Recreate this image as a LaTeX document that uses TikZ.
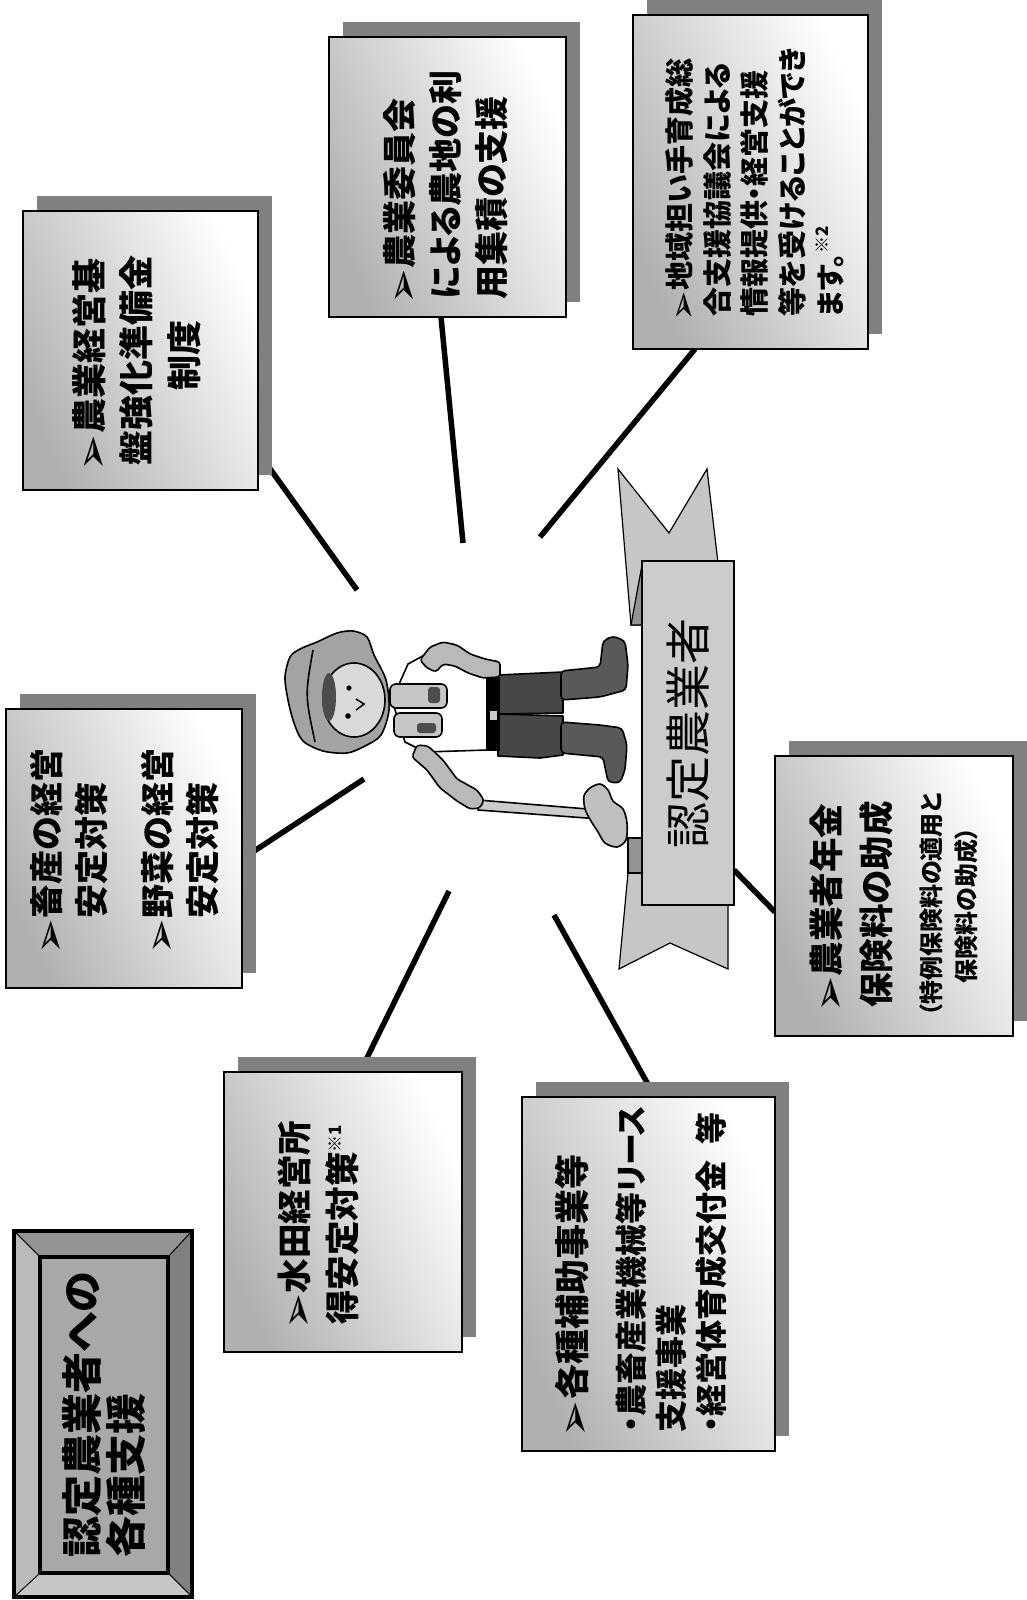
\documentclass[tikz,border=0pt]{standalone}
\usepackage{fontspec}
\usepackage{graphicx}
\usetikzlibrary{calc,shadows}
\newfontfamily\jp{Noto Sans CJK JP}[RawFeature=+palt]
\newfontfamily\sym{DejaVu Sans}
% bullet arrowhead and small reference marks
\newcommand\mk{\makebox[0.92em][l]{\hspace{-0.15em}\raisebox{-0.14em}{\scalebox{1.25}{\sym\mdseries ➢}}}}
\newcommand\refnote[1]{\raisebox{0.42em}{\fontsize{17}{17}\selectfont ※#1}}
\pgfdeclarelayer{back}
\pgfsetlayers{back,main}

\begin{document}
\begin{tikzpicture}[x=1pt,y=-1pt,
  infobox/.style={draw=black, line width=2.5pt, inner sep=0pt, outer sep=0pt,
    top color=gray!62, bottom color=white, shading angle=115,
    general shadow={fill=black!50, shadow xshift=14pt, shadow yshift=15pt}},
  conn/.style={line width=5.5pt},
  btext/.style={rotate=90, anchor=north west, inner sep=0pt, align=left, text=black},
  fig/.style={draw=black, line width=1.6pt, line join=round},
  bevel/.style={draw=black, line width=0.8pt},
]
\useasboundingbox (0,0) rectangle (1026,1600);
\begin{pgfonlayer}{back}
  \fill[white] (0,0) rectangle (1026,1600);
\end{pgfonlayer}

% ---------- support boxes ----------
\node[infobox, minimum width=235pt, minimum height=279pt] (bA) at (140.5,350.5) {};
\node[infobox, minimum width=237pt, minimum height=280pt] (bB) at (447.5,177) {};
\node[infobox, minimum width=235pt, minimum height=334pt] (bC) at (750.5,182) {};
\node[infobox, minimum width=236pt, minimum height=279pt] (bD) at (124,848.5) {};
\node[infobox, minimum width=238pt, minimum height=280pt] (bE) at (343,1212) {};
\node[infobox, minimum width=253pt, minimum height=354pt] (bF) at (648.5,1274) {};
\node[infobox, minimum width=238pt, minimum height=280pt] (bG) at (894,896) {};

\node[btext, font={\jp\bfseries\fontsize{35}{47.5}\selectfont}] (tA) at (72,466)
  {\mk 農業経営基\\盤強化準備金\\\hspace*{2.15em}制度};
\node[btext, font={\jp\bfseries\fontsize{34}{46}\selectfont}] (tB) at (383,300)
  {\mk 農業委員会\\による農地の利\\用集積の支援};
\node[btext, font={\jp\bfseries\fontsize{29}{37.5}\selectfont}] (tC) at (665.5,317)
  {\mk 地域担い手育成総\\合支援協議会による\\情報提供・経営支援\\等を受けることができ\\ます。\refnote{2}};
\node[btext, font={\jp\bfseries\fontsize{34}{45}\selectfont}] (tD) at (30,950)
  {\mk 畜産の経営\\\phantom{\mk}安定対策\\[21pt]\mk 野菜の経営\\\phantom{\mk}安定対策};
\node[btext, font={\jp\bfseries\fontsize{34.5}{48}\selectfont}] (tE) at (278,1325)
  {\mk 水田経営所\\得安定対策\refnote{1}};
\node[btext, font={\jp\bfseries\fontsize{35}{40}\selectfont}] (tF1) at (554.5,1432)
  {\mk 各種補助事業等};
\node[btext, font={\jp\bfseries\fontsize{32}{40}\selectfont}] (tF2) at (616,1433)
  {・農畜産業機械等リース\\支援事業\\・経営体育成交付金\hspace{0.5em}等};
\node[btext, font={\jp\bfseries\fontsize{34.5}{50}\selectfont}] (tG1) at (810,1008)
  {\mk 農業者年金\\保険料の助成};
\node[btext, font={\jp\bfseries\fontsize{24}{35}\selectfont}] (tG2) at (920,1017)
  {（特例保険料の適用と\\\hspace*{1.4em}保険料の助成）};

% ---------- banner ----------
\filldraw[fill=gray!45, draw=black, line width=1.2pt]
  (618,469) -- (669,533) -- (707,469) -- (720,580) -- (648,580) -- (648,625) -- (631,625) -- cycle;
\filldraw[fill=gray!85, draw=black, line width=1.2pt]
  (631,625) -- (642,565) -- (648,565) -- (648,625) -- cycle;
\filldraw[fill=gray!45, draw=black, line width=1.2pt]
  (628,873) -- (628,838) -- (728,838) -- (728,969) -- (670,943) -- (619,969) -- cycle;
\filldraw[fill=gray!85, draw=black, line width=1.2pt]
  (628,838) -- (648,838) -- (648,873) -- (628,873) -- cycle;
\node[draw=black, line width=1.5pt, fill=gray!40, minimum width=92pt, minimum height=344pt,
  inner sep=0pt, outer sep=0pt] (band) at (688,733) {};
\node[rotate=90, inner sep=0pt, font={\jp\fontsize{46}{46}\selectfont}] (bandtext) at (band.center) {認定農業者};

% ---------- connectors ----------
\coordinate (hA) at (357,590);
\coordinate (hB) at (463,543);
\coordinate (hC) at (540,537);
\coordinate (hD) at (364,779);
\coordinate (hE) at (449,891);
\coordinate (hF) at (554,915);
\begin{pgfonlayer}{back}
  \draw[conn] ($(bA.south east)+(0,-38)$) -- (hA);
  \draw[conn] ($(bB.south)+(-6.5,0)$) -- (hB);
  \draw[conn] ($(bC.south)+(-55.5,0)$) -- (hC);
  \draw[conn] ($(bD.east)+(0,10.5)$) -- (hD);
  \draw[conn] ($(bE.north)+(17,0)$) -- (hE);
  \draw[conn] ($(bF.north)+(6.5,0)$) -- (hF);
  \draw[conn] ($(band.south east)+(0,-35)$) -- ($(bG.west)+(0,16)$);
\end{pgfonlayer}

% ---------- farmer ----------
% hoe
\filldraw[fig, fill=gray!40] (478,800) -- (600,810) -- (600,819) -- (478,810) -- cycle;
\filldraw[fig, fill=gray!50] plot[smooth cycle] coordinates {(590,788) (600,784) (608,790) (613,801) (623,809) (627,823) (626,840) (617,847) (605,843) (598,832) (591,821) (585,809) (584,796)};
% trousers and boots
\filldraw[fig, fill=black!72] (498,675) -- (563,672) -- (563,713) -- (498,714) -- cycle;
\filldraw[fig, fill=black!72] (498,714) -- (563,716) -- (563,755) -- (540,758) -- (498,756) -- cycle;
\filldraw[fig, fill=black!65, rounded corners=4pt] (561,671) -- (600,667) -- (603,641) -- (613,636) -- (625,641) -- (628,665) -- (626,690) -- (600,697) -- (561,700) -- cycle;
\filldraw[fig, fill=black!65, rounded corners=4pt] (561,722) -- (600,725) -- (622,728) -- (627,745) -- (625,770) -- (620,783) -- (608,782) -- (603,757) -- (561,753) -- cycle;
% belt
\fill[black] (486,676) rectangle (500,751);
\fill[gray!40] (490,711) rectangle (497,720);
% shirt
\filldraw[fig, fill=white] (392,700) -- (408,664) -- (430,652) -- (487,672) -- (487,750) -- (425,752) -- (405,742) -- cycle;
% upper arm
\filldraw[fig, fill=gray!55, rounded corners=3pt] (420,660) -- (430,647) -- (443,642) -- (457,645) -- (470,654) -- (485,659) -- (500,662) -- (500,677) -- (483,678) -- (468,673) -- (455,666) -- (443,664) -- (436,672) -- (427,668) -- cycle;
% fists
\filldraw[fig, fill=gray!45, rounded corners=6pt] (390,684) rectangle (447,708);
\fill[black!70, rounded corners=3pt] (428,687) rectangle (440,703);
\filldraw[fig, fill=gray!45, rounded corners=6pt] (394,713) rectangle (442,737);
\fill[black!70, rounded corners=3pt] (417,723) rectangle (436,733);
% lower arm reaching the hoe
\filldraw[fig, fill=gray!55, rounded corners=3pt] (417,745) -- (428,746) -- (443,760) -- (457,779) -- (477,790) -- (484,800) -- (480,808) -- (470,809) -- (457,801) -- (440,788) -- (427,770) -- (412,757) -- cycle;
% hat, face, hair
\filldraw[fig, fill=gray!72] plot[smooth cycle] coordinates {(285,677) (290,657) (300,649) (317,642) (337,633) (353,631) (367,637) (374,655) (386,680) (389,710) (381,735) (365,746) (347,753) (323,751) (303,741) (294,723) (288,700)};
\draw[fig] (313,650) .. controls (305,695) .. (315,742);
\filldraw[fig, fill=gray!30] (354,700) ellipse [x radius=31, y radius=37];
\fill[black!70] (329,697) ellipse [x radius=7, y radius=24];
\fill (349,688) circle (2.6);
\fill (348,716) circle (2.8);
\draw[line width=1.5pt] (356,699) -- (364,704) -- (356,710);

% ---------- title plate ----------
\filldraw[fill=gray!70, line width=4pt] (14,1231) rectangle (192,1597);
\filldraw[bevel, fill=gray!85] (14,1231) -- (192,1231) -- (168,1257) -- (40,1257) -- cycle;
\filldraw[bevel, fill=gray!100] (192,1231) -- (192,1597) -- (168,1573) -- (168,1257) -- cycle;
\filldraw[bevel, fill=gray!45] (14,1597) -- (192,1597) -- (168,1573) -- (40,1573) -- cycle;
\filldraw[bevel, fill=gray!55] (14,1231) -- (40,1257) -- (40,1573) -- (14,1597) -- cycle;
\filldraw[line width=4.5pt, fill=gray!68] (40,1257) rectangle (168,1573);
\draw[line width=4pt] (14,1231) rectangle (192,1597);
\node[btext, font={\jp\bfseries\fontsize{41}{44}\selectfont}] (tH) at (62.5,1558)
  {認定農業者への\\各種支援};
\end{tikzpicture}
\end{document}
